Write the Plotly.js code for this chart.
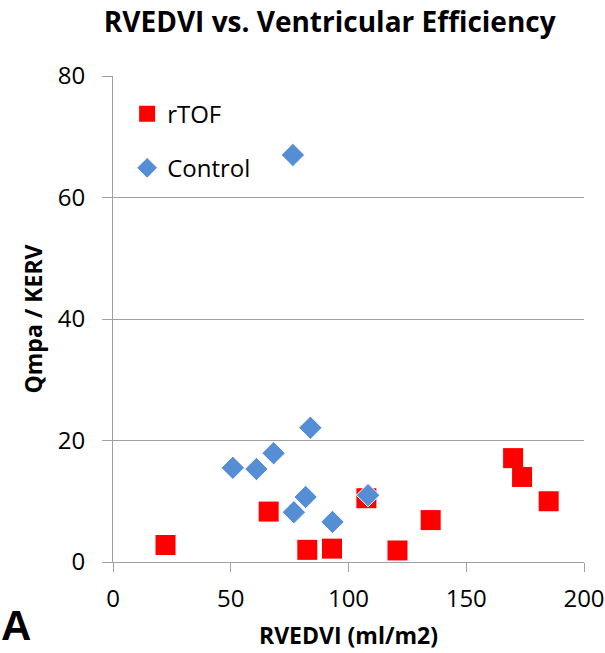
<!DOCTYPE html>
<html>
<head>
<meta charset="utf-8">
<script src="https://cdn.plot.ly/plotly-3.0.1.min.js"></script>
<style>
  html, body { margin: 0; padding: 0; background: #fff; }
  #chart { width: 605px; height: 653px; }
</style>
</head>
<body>
<div id="chart"></div>
<script>
  // values
  var rtofX = [22.3, 66.1, 82.5, 93.0, 107.6, 120.8, 134.9, 169.9, 173.7, 185.0];
  var rtofY = [2.8, 8.3, 2.0, 2.2, 10.5, 1.9, 6.9, 17.1, 14.0, 10.0];

  var controlX = [76.4, 50.9, 60.9, 68.2, 83.8, 81.8, 76.8, 93.2, 108.3];
  var controlY = [67.0, 15.5, 15.3, 17.9, 22.1, 10.7, 8.2, 6.6, 11.0];

  var font = 'Open Sans, Liberation Sans, sans-serif';

  var rtof = {
    x: rtofX,
    y: rtofY,
    name: 'rTOF',
    type: 'scatter',
    mode: 'markers',
    legendgroup: 'a',
    marker: {symbol: 'square', size: 20, color: '#FF0000'}
  };

  var control = {
    x: controlX,
    y: controlY,
    name: 'Control',
    type: 'scatter',
    mode: 'markers',
    legendgroup: 'b',
    marker: {symbol: 'diamond', size: 18, color: '#558ED5', line: {color: '#ffffff', width: 1}}
  };

  var layout = {
    width: 605,
    height: 653,
    margin: {l: 113, r: 21, t: 76, b: 91},
    paper_bgcolor: '#ffffff',
    plot_bgcolor: '#ffffff',
    font: {family: font, size: 24, color: '#000'},
    title: {
      text: '<b>RVEDVI vs. Ventricular Efficiency</b>',
      font: {family: font, size: 28, color: '#000'},
      x: 0.545, xanchor: 'center',
      y: 0.966, yanchor: 'middle'
    },
    xaxis: {
      range: [0, 200],
      tickvals: [0, 50, 100, 150, 200],
      showgrid: false,
      zeroline: false,
      showline: true,
      linecolor: '#A0A0A0',
      ticks: 'outside',
      ticklen: 9,
      tickcolor: '#A0A0A0',
      tickfont: {family: font, size: 24},
      ticklabelstandoff: 6,
      title: {text: '<b>RVEDVI (ml/m2)</b>', font: {family: font, size: 23}, standoff: 15}
    },
    yaxis: {
      range: [0, 80],
      tickvals: [0, 20, 40, 60, 80],
      showgrid: true,
      gridcolor: '#A0A0A0',
      zeroline: false,
      showline: true,
      linecolor: '#A0A0A0',
      ticks: 'outside',
      ticklen: 10,
      tickcolor: '#A0A0A0',
      tickfont: {family: font, size: 24},
      ticklabelstandoff: 12,
      title: {text: '<b>Qmpa / KERV</b>', font: {family: font, size: 23}, standoff: 8}
    },
    showlegend: true,
    legend: {
      x: 0.03, y: 0.968, xanchor: 'left', yanchor: 'top',
      bgcolor: 'rgba(0,0,0,0)',
      font: {family: font, size: 24},
      tracegroupgap: 20
    },
    annotations: [{
      text: '<b>A</b>',
      xref: 'paper', yref: 'paper',
      x: -0.242, y: -0.13,
      xanchor: 'left', yanchor: 'middle',
      showarrow: false,
      font: {family: 'Liberation Sans, Arial, sans-serif', size: 42, color: '#000'}
    }]
  };

  Plotly.newPlot('chart', [rtof, control], layout, {displayModeBar: false});
</script>
</body>
</html>
